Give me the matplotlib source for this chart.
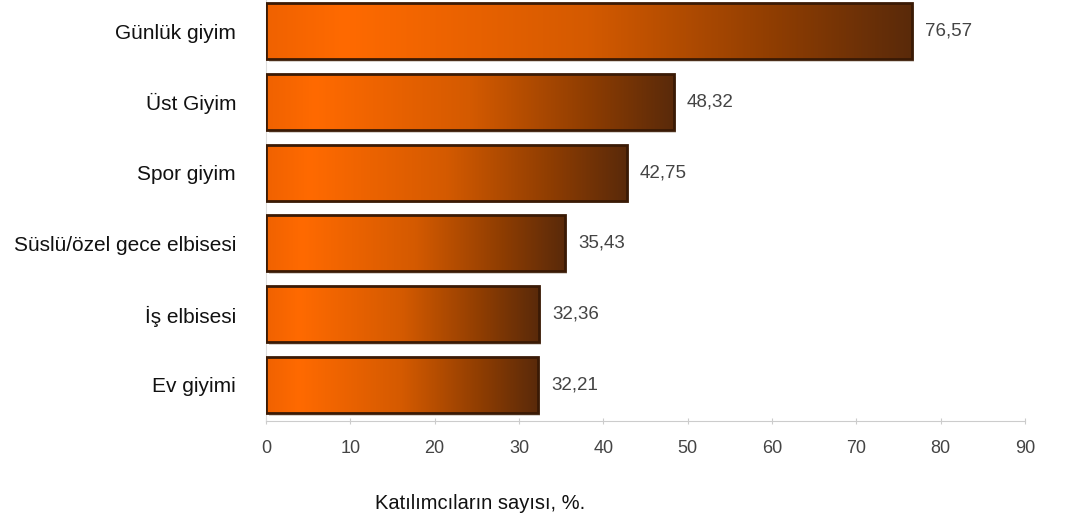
import numpy as np
import matplotlib.pyplot as plt
from matplotlib.colors import LinearSegmentedColormap
from matplotlib.patches import Rectangle

categories = ['Günlük giyim', 'Üst Giyim', 'Spor giyim',
              'Süslü/özel gece elbisesi', 'İş elbisesi', 'Ev giyimi']
values = [76.57, 48.32, 42.75, 35.43, 32.36, 32.21]
value_labels = ['76,57', '48,32', '42,75', '35,43', '32,36', '32,21']
xticks = [0, 10, 20, 30, 40, 50, 60, 70, 80, 90]

plt.rcParams['font.family'] = ['Liberation Sans', 'DejaVu Sans']

fig = plt.figure(figsize=(10.79, 5.22), dpi=100)
ax = fig.add_axes([0.2465, 0.1935, 0.7035, 0.8065])

# orange -> dark brown gradient of the bars
grad = LinearSegmentedColormap.from_list(
    'bar', [(0, '#f06200'), (0.12, '#ff6a00'), (0.5, '#d45a00'),
            (0.8, '#8c3c02'), (1, '#5a2a0a')])
g = np.linspace(0, 1, 256).reshape(1, -1)
h = 0.79

for i, (v, lab) in enumerate(zip(values, value_labels)):
    # shadow
    ax.add_patch(Rectangle((0.3, i - h / 2 + 0.04), v, h, facecolor='#d8d2cc',
                           edgecolor='none', zorder=1))
    im = ax.imshow(g, cmap=grad, aspect='auto', extent=(0, v, i + h / 2, i - h / 2),
                   zorder=2, interpolation='bilinear')
    rect = Rectangle((0, i - h / 2), v, h, facecolor='none', edgecolor='#3a1a05',
                     linewidth=2, zorder=3)
    ax.add_patch(rect)
    im.set_clip_path(rect)
    ax.text(v + 1.6, i, lab, va='center', ha='left', fontsize=13.5, color='#444444')

ax.set_xlim(0, 90)
ax.set_ylim(5.51, -0.44)
ax.set_yticks(range(len(categories)))
ax.set_yticklabels(categories, fontsize=15, color='#111111')
ax.set_xticks(xticks)
ax.set_xticklabels([str(t) for t in xticks], fontsize=13, color='#444444')
ax.tick_params(axis='y', length=0, pad=21.5)
ax.tick_params(axis='x', length=4, direction='inout', color='#cccccc', pad=12)
for s in ['top', 'right']:
    ax.spines[s].set_visible(False)
ax.spines['bottom'].set_color('#cccccc')
ax.spines['left'].set_color('#dddddd')

fig.text(0.445, 0.036, 'Katılımcıların sayısı, %.', ha='center', va='center',
         fontsize=14.5, color='#111111')

fig.savefig('out.png', dpi=100)
